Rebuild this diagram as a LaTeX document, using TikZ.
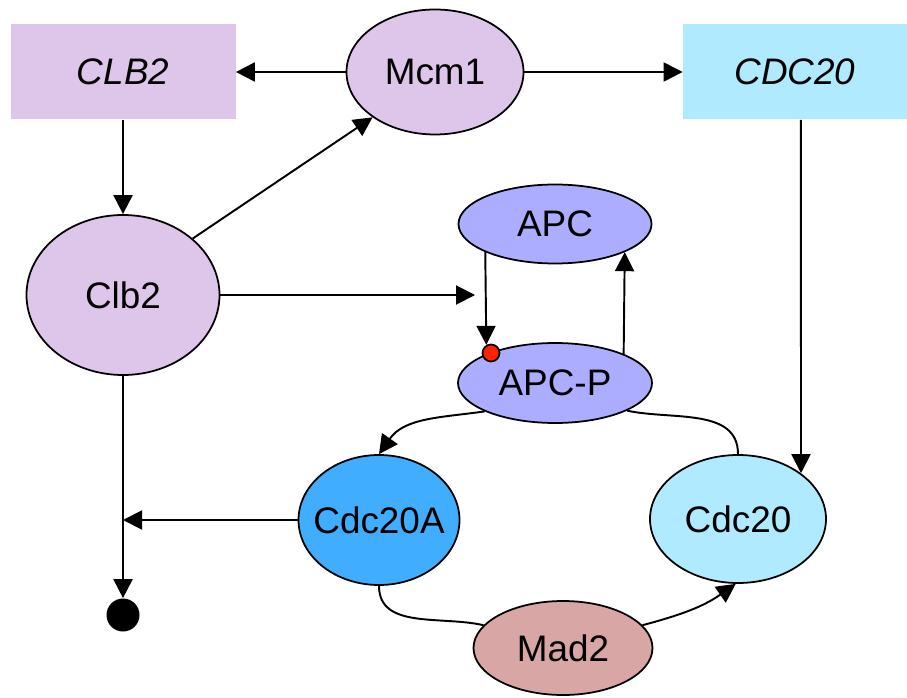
\documentclass[tikz,border=0pt]{standalone}
\usepackage{fontspec}
\setmainfont{Liberation Sans}
\usetikzlibrary{arrows.meta,shapes.geometric}
\definecolor{lilac}{RGB}{222,198,234}
\definecolor{skyblue}{RGB}{176,234,254}
\definecolor{periwinkle}{RGB}{173,173,255}
\definecolor{azure}{RGB}{64,173,255}
\definecolor{rosebrown}{RGB}{217,166,166}
\definecolor{dotred}{RGB}{255,34,0}

\begin{document}
\begin{tikzpicture}[
    font=\fontsize{21}{25}\selectfont,
    gene/.style={rectangle, inner sep=0pt, minimum width=4.5cm, minimum height=1.9cm,
        font=\fontsize{21}{25}\selectfont\itshape},
    prot/.style={ellipse, draw, line width=1pt, inner sep=0pt},
    >={Triangle[length=0.38cm,width=0.38cm]},
    every edge/.style={draw, line width=1.1pt}
]
\useasboundingbox (0,0) rectangle (18.14,13.94);

\node[gene, fill=lilac] (clbgene) at (2.46,12.5) {CLB2};
\node[gene, fill=skyblue, minimum width=4.48cm] (cdcgene) at (15.9,12.5) {CDC20};
\node[prot, fill=lilac, minimum width=3.54cm, minimum height=2.5cm, label=center:Mcm1] (mcm) at (8.7,12.5) {};
\node[prot, fill=lilac, minimum width=3.86cm, minimum height=3.2cm, label=center:Clb2] (clb) at (2.46,8.04) {};
\node[prot, fill=periwinkle, minimum width=3.86cm, minimum height=1.58cm, label=center:APC] (apc) at (11.1,9.46) {};
\node[prot, fill=periwinkle, minimum width=3.88cm, minimum height=1.6cm, label=center:APC-P] (apcp) at (11.1,6.28) {};
\node[prot, fill=azure, minimum width=3.22cm, minimum height=2.6cm, label=center:Cdc20A] (cdca) at (7.58,3.54) {};
\node[prot, fill=skyblue, minimum width=3.52cm, minimum height=2.56cm, label=center:Cdc20] (cdc) at (14.76,3.56) {};
\node[prot, fill=rosebrown, minimum width=3.58cm, minimum height=1.88cm, label=center:Mad2] (mad) at (11.26,0.98) {};
\node[circle, fill=black, inner sep=0pt, minimum size=0.66cm] (sink) at (2.46,1.64) {};
\node[circle, draw, fill=dotred, line width=1pt, inner sep=0pt, minimum size=0.34cm] (phos) at (9.82,6.88) {};

\coordinate (apcin) at (9.5,8.04);
\coordinate (deg) at (2.46,3.54);

\path
    (mcm) edge[->] (clbgene)
    (mcm) edge[->] (cdcgene)
    (clbgene) edge[->] (clb)
    (clb.39) edge[->] (mcm.216)
    (clb.east) edge[->] (apcin)
    (apc.202) edge[->] (phos.120)
    (apcp.23) edge[->] (apc.338)
    (cdcgene.-83) edge[->] (cdc.36)
    (cdc.north) edge[out=90, in=-12] (apcp.-21)
    (apcp.202) edge[->, out=188, in=55] (cdca.north)
    (cdca.west) edge[->] (deg)
    (clb.south) edge[->] (sink)
    (cdca.south) edge[out=-90, in=167] (mad.164)
    (mad.16) edge[->, out=15, in=-145] (cdc.-92);
\end{tikzpicture}
\end{document}
